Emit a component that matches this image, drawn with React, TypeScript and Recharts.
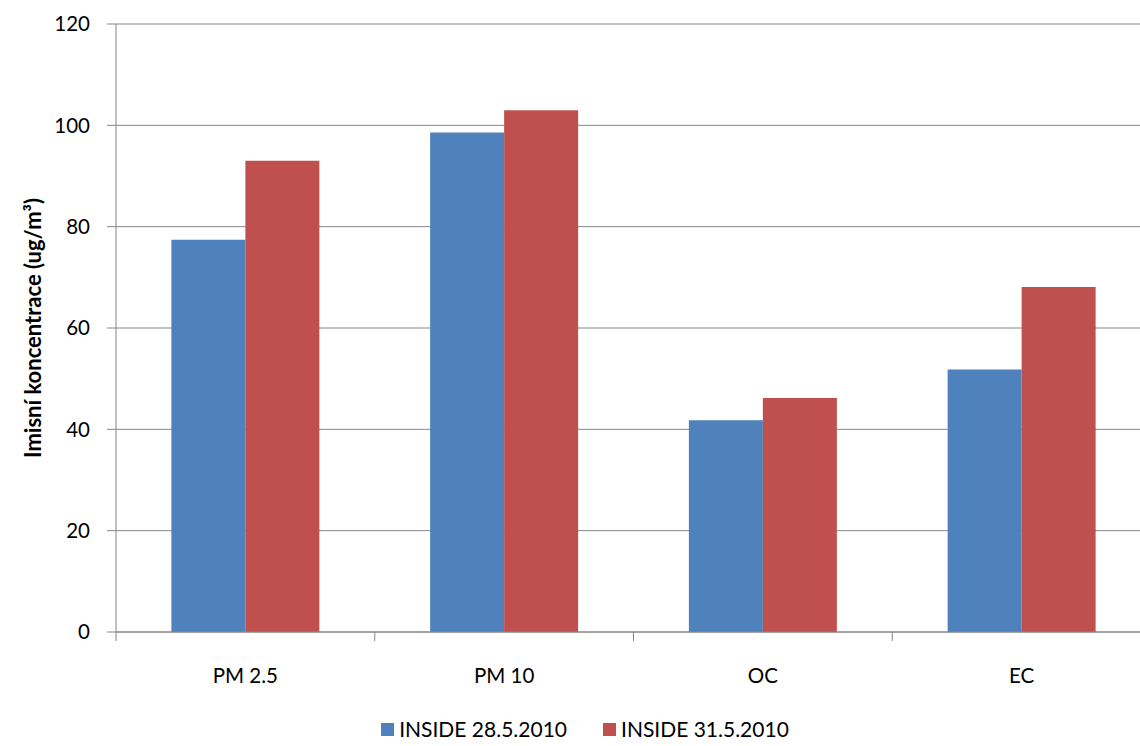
import React from "react";
import { BarChart, Bar, XAxis, YAxis, CartesianGrid, Legend, Label } from "recharts";

const categories = ["PM 2.5", "PM 10", "OC", "EC"];
const inside285 = [77.4, 98.6, 41.8, 51.8];
const inside315 = [93.0, 103.0, 46.2, 68.1];
const yTicks = [0, 20, 40, 60, 80, 100, 120];

const data = categories.map((name, i) => ({
  name,
  a: inside285[i],
  b: inside315[i],
}));

const W = 1160;
const H = 746;
const Y_AXIS_W = 116;
const M_RIGHT = 9;
const PLOT_W = W - Y_AXIS_W - M_RIGHT;
const BAND = PLOT_W / categories.length;
const TICK = 9;
const TICK_GAP = 27.5;

const FONT = "Lato, 'Open Sans', sans-serif";
const AXIS = "#868686";

// category labels with the tick marks sitting on the band edges, like Excel
const CatTick = (props: any) => {
  const { x, y, payload, index } = props;
  const top = y - TICK - TICK_GAP;
  const left = x - BAND / 2;
  return (
    <g>
      <line x1={left} x2={left} y1={top} y2={top + TICK} stroke={AXIS} />
      {index === categories.length - 1 && (
        <line x1={x + BAND / 2} x2={x + BAND / 2} y1={top} y2={top + TICK} stroke={AXIS} />
      )}
      <text x={x} y={y} dy="0.71em" textAnchor="middle" fill="#000" fontSize={20.5} fontFamily={FONT}>
        {payload.value}
      </text>
    </g>
  );
};

const LegendBox = (props: any) => {
  const { payload } = props;
  return (
    <div style={{ display: "flex", justifyContent: "center", gap: 36, fontFamily: FONT, fontSize: 21, lineHeight: "22px" }}>
      {payload.map((p: any) => (
        <div key={p.value} style={{ display: "flex", alignItems: "center", gap: 5 }}>
          <span style={{ width: 13, height: 13, background: p.color, display: "inline-block" }} />
          <span style={{ color: "#000" }}>{p.value}</span>
        </div>
      ))}
    </div>
  );
};

export default function App() {
  return (
    <div style={{ position: "fixed", left: 0, top: 0, width: 1140, height: 746, overflow: "hidden", background: "#fff" }}>
      <BarChart
        width={W}
        height={H}
        data={data}
        margin={{ top: 24, right: M_RIGHT, left: 0, bottom: 54 }}
        barCategoryGap="21.4%"
        barGap={0}
      >
        <CartesianGrid vertical={false} stroke={AXIS} />
        <XAxis
          dataKey="name"
          height={60}
          axisLine={{ stroke: AXIS }}
          tickLine={false}
          tickSize={TICK}
          tickMargin={TICK_GAP}
          tick={<CatTick />}
          interval={0}
        />
        <YAxis
          width={Y_AXIS_W}
          domain={[0, 120]}
          ticks={yTicks}
          interval={0}
          axisLine={{ stroke: AXIS }}
          tickLine={{ stroke: AXIS }}
          tickSize={TICK}
          tickMargin={17}
          tick={{ fill: "#000", fontSize: 20.5, fontFamily: FONT }}
        >
          <Label
            value="Imisní koncentrace  (ug/m³)"
            angle={-90}
            position="insideLeft"
            offset={23}
            dx={10}
            style={{ textAnchor: "middle", fontWeight: 700, fontSize: 22, fontFamily: FONT, fill: "#000" }}
          />
        </YAxis>
        <Legend
          verticalAlign="middle"
          align="center"
          content={<LegendBox />}
          wrapperStyle={{ top: 718, left: 0, width: 1170 }}
        />
        <Bar dataKey="a" name="INSIDE 28.5.2010" fill="#4F81BD" isAnimationActive={false} />
        <Bar dataKey="b" name="INSIDE 31.5.2010" fill="#C0504D" isAnimationActive={false} />
      </BarChart>
    </div>
  );
}
